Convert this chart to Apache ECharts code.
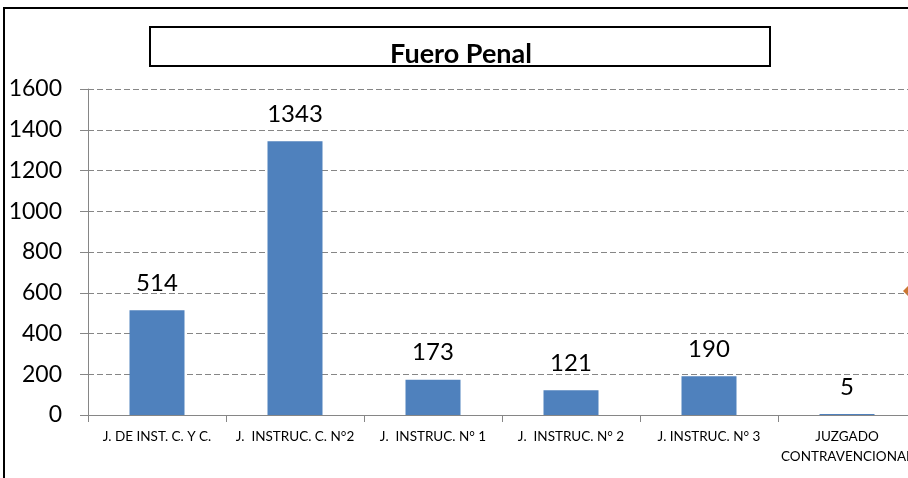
<!DOCTYPE html>
<html>
<head>
<meta charset="utf-8">
<script src="https://cdn.jsdelivr.net/npm/echarts@6/dist/echarts.min.js"></script>
<style>
  html, body { margin: 0; padding: 0; background: #fff; }
  #main { width: 908px; height: 478px; }
</style>
</head>
<body>
<div id="main"></div>
<script>
var myChart = echarts.init(document.getElementById('main'));

var categories = [
    'J. DE INST. C. Y C.',
    'J.  INSTRUC. C. N°2',
    'J.  INSTRUC. N° 1',
    'J.  INSTRUC. N° 2',
    'J. INSTRUC. N° 3',
    'JUZGADO\nCONTRAVENCIONAL'
];
var causas = [514, 1343, 173, 121, 190, 5];
var yTicks = { min: 0, max: 1600, interval: 200 };

var font = 'Lato, "Open Sans", sans-serif';
var gray = '#868686';

var option = {
    backgroundColor: '#fff',
    animation: false,
    graphic: [
        {
            type: 'rect',
            shape: { x: 4, y: 8, width: 1200, height: 1200 },
            style: { fill: 'none', stroke: '#000', lineWidth: 2 }
        },
        {
            type: 'rect',
            shape: { x: 150, y: 27, width: 620, height: 39 },
            style: { fill: '#fff', stroke: '#000', lineWidth: 2 }
        },
        {
            type: 'text',
            x: 461,
            y: 54,
            style: {
                text: 'Fuero Penal',
                fontFamily: font,
                fontSize: 27,
                fontWeight: 'bold',
                fill: '#000',
                align: 'center',
                verticalAlign: 'middle'
            }
        },
        {
            // legend key of a second series, clipped at the right edge
            type: 'polygon',
            shape: { points: [[903, 291], [910, 284], [917, 291], [910, 298]] },
            style: { fill: '#CC7631' }
        }
    ],
    grid: {
        left: 88,
        top: 89,
        width: 828,
        height: 326,
        outerBoundsMode: 'none'
    },
    xAxis: {
        type: 'category',
        data: categories,
        axisLine: { lineStyle: { color: gray, width: 1 } },
        axisTick: { show: true, length: 7, lineStyle: { color: gray } },
        axisLabel: {
            color: '#000',
            fontFamily: font,
            fontSize: 13.5,
            margin: 12,
            interval: 0,
            lineHeight: 20,
            hideOverlap: false
        }
    },
    yAxis: {
        type: 'value',
        min: yTicks.min,
        max: yTicks.max,
        interval: yTicks.interval,
        axisLine: { show: true, lineStyle: { color: gray } },
        axisTick: { show: true, length: 8, lineStyle: { color: gray } },
        axisLabel: {
            color: '#000',
            fontFamily: font,
            fontSize: 23,
            margin: 26,
            formatter: function (v) { return String(v); }
        },
        splitLine: {
            lineStyle: { color: gray, type: [6, 3], width: 1 }
        }
    },
    series: [
        {
            name: 'Causas',
            type: 'bar',
            data: causas,
            barWidth: 55,
            itemStyle: { color: '#4F81BD' },
            label: {
                show: true,
                position: 'top',
                distance: 15,
                color: '#000',
                fontFamily: font,
                fontSize: 24
            }
        }
    ]
};

myChart.setOption(option);
</script>
</body>
</html>
